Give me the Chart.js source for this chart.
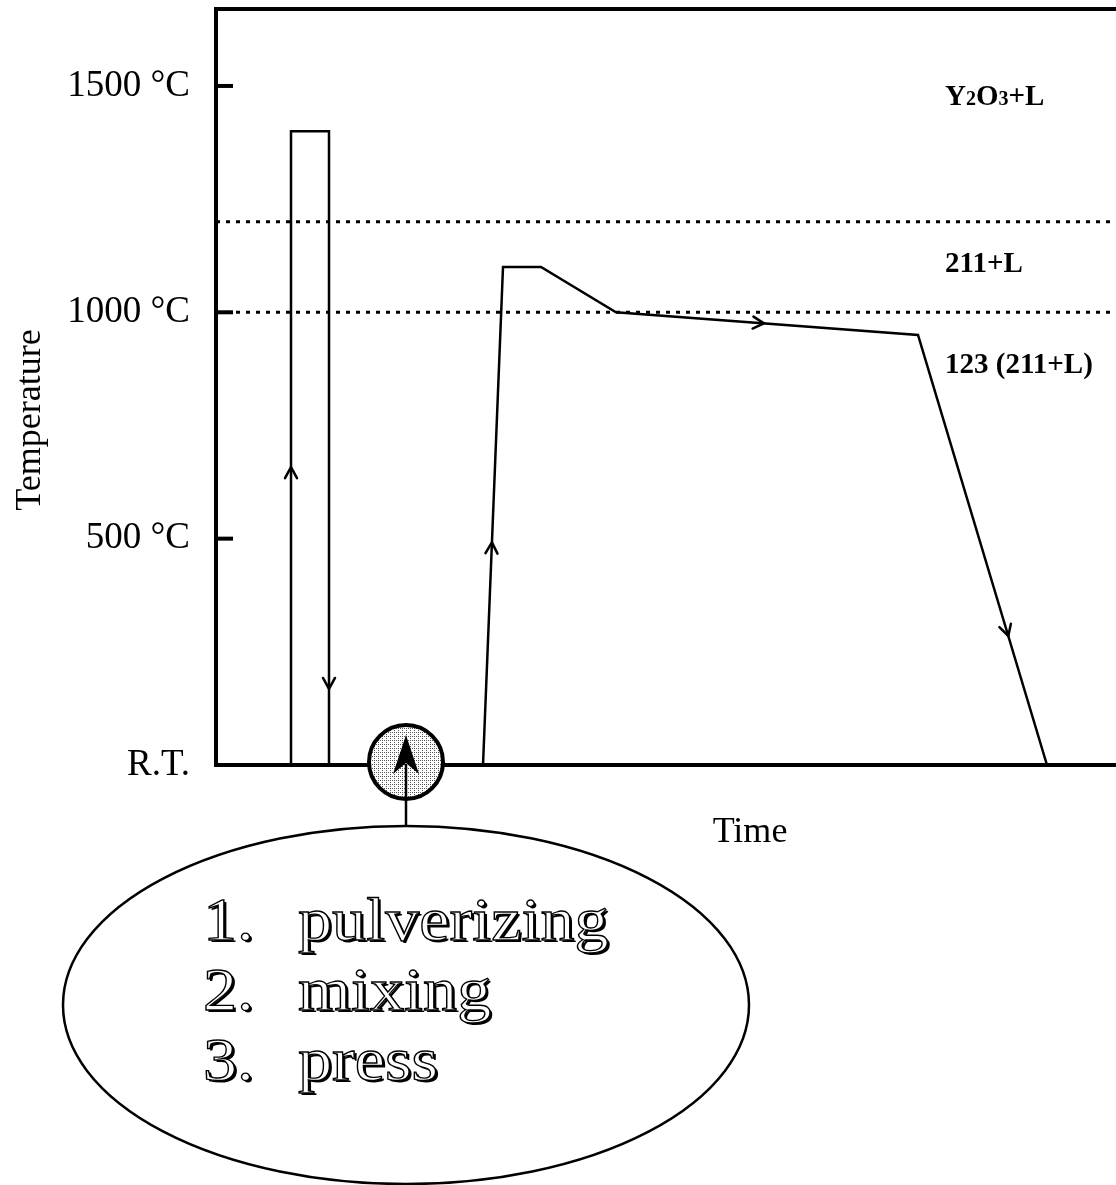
<!DOCTYPE html>
<html>
<head>
<meta charset="utf-8">
<script src="https://cdn.jsdelivr.net/npm/chart.js@4.4.0/dist/chart.umd.min.js"></script>
<style>
  html, body { margin: 0; padding: 0; background: #fff; }
</style>
</head>
<body>
<canvas id="grafik" width="1116" height="1185"></canvas>
<script>
// time has no numbers in the original -> arbitrary units, R.T. is drawn as 0
const xMax = 90;
const yMax = 1670;
const tickValues = [0, 500, 1000, 1500];
const tickLabels = ['R.T.', '500 °C', '1000 °C', '1500 °C'];

// first firing: up, short hold, down
const calcTime = [7.5, 7.5, 11.3, 11.3];
const calcTemp = [0, 1400, 1400, 0];

// melt growth profile
const growthTime = [26.7, 28.7, 32.5, 40.0, 70.2, 83.1];
const growthTemp = [0, 1100, 1100, 1000, 950, 0];

// phase boundaries (dotted)
const boundaryTemps = [1200, 1000];

const steps = ['pulverizing', 'mixing', 'press'];

const serif = "'Liberation Serif', 'Times New Roman', serif";

function pts(xs, ys) {
  return xs.map((x, i) => ({ x: x, y: ys[i] }));
}

function engraved(ctx, text, x, y) {
  ctx.save();
  ctx.translate(x, y);
  ctx.scale(1.1, 1);
  ctx.fillStyle = '#000';
  ctx.fillText(text, 2.2, 2.2);
  ctx.fillStyle = '#fff';
  ctx.fillText(text, 0, 0);
  ctx.strokeStyle = '#000';
  ctx.lineWidth = 1.3;
  ctx.strokeText(text, 0, 0);
  ctx.restore();
}

// stipple for the small circle
function stipple() {
  const c = document.createElement('canvas');
  c.width = 4; c.height = 4;
  const g = c.getContext('2d');
  g.fillStyle = '#fff';
  g.fillRect(0, 0, 4, 4);
  g.fillStyle = '#555';
  g.fillRect(0, 0, 1, 1);
  g.fillRect(2, 2, 1, 1);
  g.fillRect(2, 0, 1, 1);
  return c;
}

const ekler = {
  id: 'ekler',
  afterDraw(chart) {
    const ctx = chart.ctx;
    const a = chart.chartArea;
    const xs = chart.scales.x;
    const ys = chart.scales.y;
    ctx.save();
    ctx.strokeStyle = '#000';
    ctx.fillStyle = '#000';
    ctx.lineCap = 'butt';

    // top frame line
    ctx.lineWidth = 4;
    ctx.beginPath();
    ctx.moveTo(a.left - 2, a.top);
    ctx.lineTo(a.right, a.top);
    ctx.stroke();

    // inward tick marks
    tickValues.slice(1).forEach(v => {
      const y = ys.getPixelForValue(v);
      ctx.beginPath();
      ctx.moveTo(a.left, y);
      ctx.lineTo(a.left + 17, y);
      ctx.stroke();
    });

    // direction arrows on the profiles
    const arrows = [
      { ds: 2, seg: 0, t: 0.47 },
      { ds: 2, seg: 2, t: 0.88 },
      { ds: 3, seg: 0, t: 0.447 },
      { ds: 3, seg: 3, t: 0.49 },
      { ds: 3, seg: 4, t: 0.70 }
    ];
    ctx.lineWidth = 2.5;
    ctx.lineCap = 'round';
    arrows.forEach(ar => {
      const meta = chart.getDatasetMeta(ar.ds);
      const p0 = meta.data[ar.seg], p1 = meta.data[ar.seg + 1];
      const dx = p1.x - p0.x, dy = p1.y - p0.y;
      const len = Math.hypot(dx, dy);
      const ux = dx / len, uy = dy / len;
      const tx = p0.x + dx * ar.t, ty = p0.y + dy * ar.t;
      ctx.beginPath();
      ctx.moveTo(tx - 11 * ux + 6 * uy, ty - 11 * uy - 6 * ux);
      ctx.lineTo(tx, ty);
      ctx.lineTo(tx - 11 * ux - 6 * uy, ty - 11 * uy + 6 * ux);
      ctx.stroke();
    });

    // phase field labels
    const lx = xs.getPixelForValue(72.9);
    ctx.textAlign = 'left';
    ctx.textBaseline = 'alphabetic';
    const big = 'bold 29px ' + serif, small = 'bold 20px ' + serif;
    let cx = lx;
    const yY = ys.getPixelForValue(1458);
    [['Y', big], ['2', small], ['O', big], ['3', small], ['+L', big]].forEach(([t, f]) => {
      ctx.font = f;
      ctx.fillText(t, cx, yY);
      cx += ctx.measureText(t).width;
    });
    ctx.font = big;
    ctx.fillText('211+L', lx, ys.getPixelForValue(1089));
    ctx.fillText('123 (211+L)', lx, ys.getPixelForValue(866));

    // axis titles
    ctx.font = '36px ' + serif;
    ctx.textAlign = 'center';
    ctx.fillText('Time', 750, 842);
    ctx.save();
    ctx.translate(31, 420);
    ctx.rotate(-Math.PI / 2);
    ctx.textBaseline = 'middle';
    ctx.fillText('Temperature', 0, 0);
    ctx.restore();

    // powder processing step: circle on the axis + ellipse below
    const ccx = xs.getPixelForValue(19.0);
    const ccy = ys.getPixelForValue(0) - 3;
    ctx.lineCap = 'butt';
    ctx.beginPath();
    ctx.arc(ccx, ccy, 37, 0, Math.PI * 2);
    ctx.fillStyle = ctx.createPattern(stipple(), 'repeat');
    ctx.fill();
    ctx.lineWidth = 4;
    ctx.strokeStyle = '#000';
    ctx.stroke();

    const ex = ccx, ey = ccy + 243;
    ctx.lineWidth = 2.5;
    ctx.beginPath();
    ctx.moveTo(ccx, ccy + 2);
    ctx.lineTo(ccx, ey - 179);
    ctx.stroke();
    ctx.fillStyle = '#000';
    ctx.beginPath();
    ctx.moveTo(ccx, ccy - 27);
    ctx.lineTo(ccx - 13, ccy + 12);
    ctx.lineTo(ccx, ccy + 1);
    ctx.lineTo(ccx + 13, ccy + 12);
    ctx.closePath();
    ctx.fill();

    ctx.beginPath();
    ctx.ellipse(ex, ey, 343, 179, 0, 0, Math.PI * 2);
    ctx.lineWidth = 2.5;
    ctx.stroke();

    ctx.font = '62px ' + serif;
    ctx.textAlign = 'left';
    ctx.textBaseline = 'alphabetic';
    steps.forEach((s, i) => {
      const by = 940 + i * 70;
      engraved(ctx, (i + 1) + '.', 203, by);
      engraved(ctx, s, 298, by);
    });

    ctx.restore();
  }
};

const ctx1 = document.getElementById('grafik').getContext('2d');
const grafik = new Chart(ctx1, {
  type: 'scatter',
  data: {
    datasets: [
      {
        data: [{ x: 0, y: boundaryTemps[0] }, { x: xMax, y: boundaryTemps[0] }],
        borderColor: '#000', borderWidth: 3, borderDash: [4, 6]
      },
      {
        data: [{ x: 0, y: boundaryTemps[1] }, { x: xMax, y: boundaryTemps[1] }],
        borderColor: '#000', borderWidth: 3, borderDash: [4, 6]
      },
      {
        data: pts(calcTime, calcTemp),
        borderColor: '#000', borderWidth: 2.5
      },
      {
        data: pts(growthTime, growthTemp),
        borderColor: '#000', borderWidth: 2.5
      }
    ]
  },
  options: {
    responsive: false,
    animation: false,
    devicePixelRatio: 1,
    showLine: true,
    elements: {
      point: { radius: 0, hoverRadius: 0 },
      line: { tension: 0, fill: false, borderJoinStyle: 'miter' }
    },
    layout: { padding: { top: 9, left: 0, right: 0, bottom: 0 } },
    plugins: {
      legend: { display: false },
      tooltip: { enabled: false }
    },
    scales: {
      x: {
        type: 'linear',
        min: 0,
        max: xMax,
        ticks: { display: false },
        grid: { display: false, drawTicks: false },
        border: { display: true, color: '#000', width: 4 },
        afterFit: s => { s.height = 1185 - 765; s.paddingLeft = 0; s.paddingRight = 0; }
      },
      y: {
        type: 'linear',
        min: 0,
        max: yMax,
        afterBuildTicks: s => { s.ticks = tickValues.map(v => ({ value: v })); },
        ticks: {
          color: '#000',
          padding: 26,
          font: { family: serif, size: 37 },
          callback: (v, i) => tickLabels[i]
        },
        grid: { display: false, drawTicks: false },
        border: { display: true, color: '#000', width: 4 },
        afterFit: s => { s.width = 216; s.paddingTop = 0; s.paddingBottom = 0; }
      }
    }
  },
  plugins: [ekler]
});
</script>
</body>
</html>
